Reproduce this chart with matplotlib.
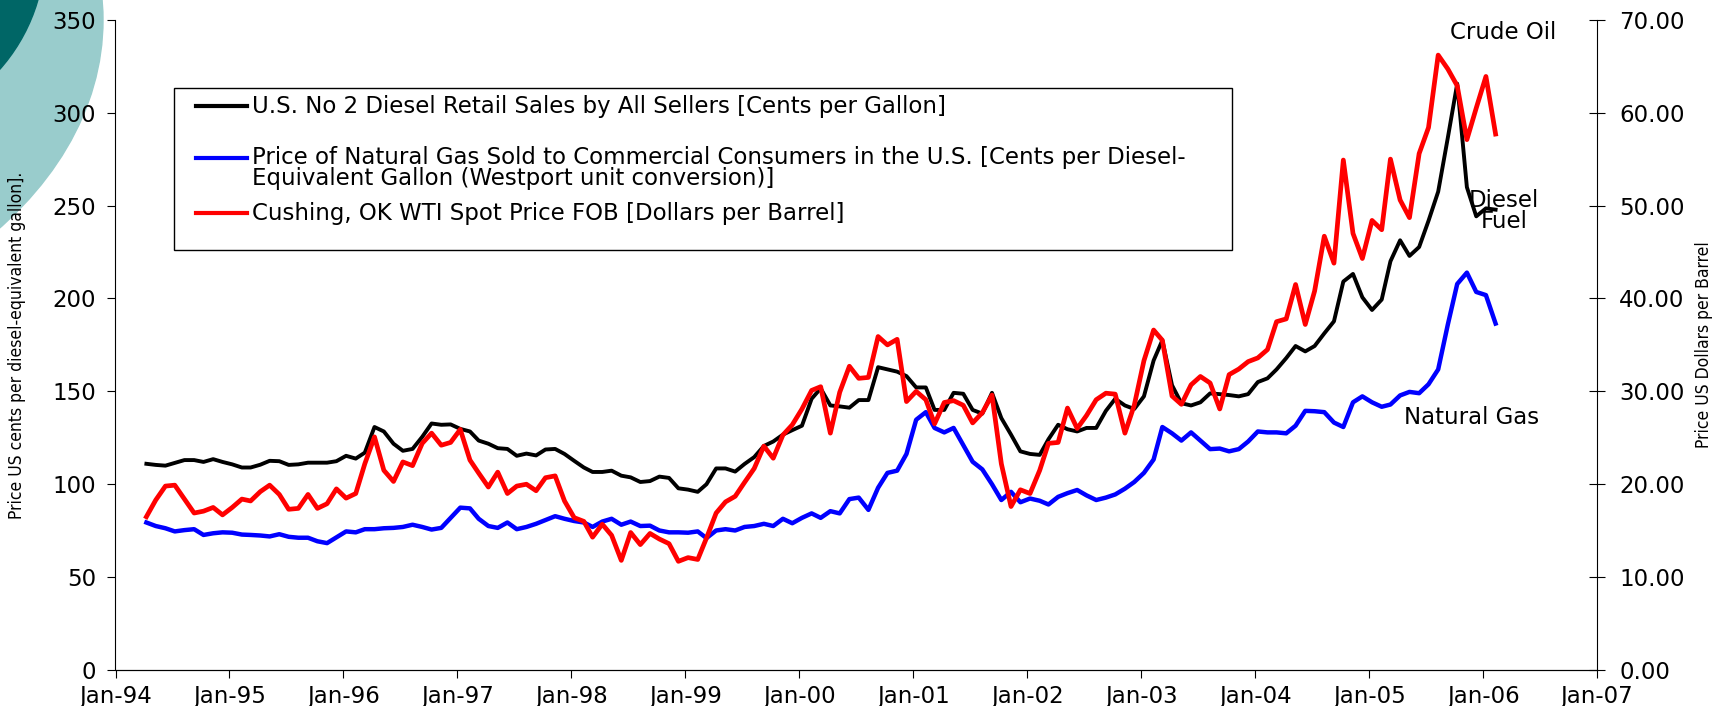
import matplotlib
matplotlib.use("Agg")
import matplotlib.pyplot as plt
import matplotlib.dates as mdates
from matplotlib.patches import Ellipse, Rectangle
from matplotlib.lines import Line2D
from matplotlib.ticker import FormatStrFormatter
import numpy as np
import pandas as pd

# monthly series, Apr-1994 .. Feb-2006
months = pd.date_range("1994-04-01", "2006-02-01", freq="MS") + pd.Timedelta(days=9)

# U.S. No 2 diesel retail, cents per gallon (left axis)
diesel = [
    111, 110.4, 110, 111.5, 113, 113, 112, 113.5, 112,
    110.7, 109, 109, 110.5, 112.6, 112.4, 110.4, 110.7, 111.6, 111.6, 111.6, 112.4,
    115.3, 113.8, 117, 130.8, 128.4, 121.8, 118, 119, 125.5, 132.7, 132, 132.2,
    129.8, 128.4, 123.5, 121.8, 119.4, 119, 115.3, 116.5, 115.5, 118.7, 119, 116.3,
    112.6, 109, 106.6, 106.6, 107.3, 104.6, 103.7, 101.2, 101.7, 104.1, 103.4, 97.8,
    97.1, 95.9, 100, 108.5, 108.5, 106.8, 110.9, 114.6, 120.6, 123, 126.7, 129.1,
    131.5, 146, 151.6, 142.4, 141.9, 141.2, 145.3, 145.3, 163, 161.8, 160.6, 158.2,
    152.1, 152.1, 140, 140, 149.2, 148.7, 140, 138, 149.2, 135.6, 126.7, 117.7,
    116.3, 115.8, 124.2, 132, 129.6, 128.4, 130.3, 130.3, 139.5, 146, 142.4, 140.5,
    147.3, 166.6, 177.5, 153.3, 143.6, 142.4, 144.1, 148.9, 148.5, 148, 147.3, 148.5,
    155, 157, 161.8, 167.9, 174.4, 171.5, 174.4, 181.2, 187.7, 209.1, 213.2, 200.6,
    193.8, 199.4, 220, 231.3, 222.9, 227.7, 241.8, 257.5, 286.6, 315.6, 259.9, 244.2,
    248.5, 247.8,
]

# natural gas, cents per diesel-equivalent gallon (left axis)
natgas = [
    79.4, 77.5, 76.3, 74.6, 75.3, 75.8, 72.7, 73.6, 74.1,
    73.9, 72.9, 72.7, 72.4, 71.9, 73.1, 71.7, 71.2, 71.2, 69.3, 68.3, 71.4,
    74.6, 74.1, 75.8, 75.8, 76.3, 76.5, 77, 78.2, 77, 75.6, 76.5, 81.9,
    87.4, 87, 81.4, 77.5, 76.5, 79.4, 75.8, 77, 78.7, 80.7, 82.8, 81.4,
    80.2, 79.4, 77, 79.9, 81.4, 78.2, 79.9, 77.5, 77.7, 75.1, 74.1, 74.1,
    73.9, 74.6, 71.0, 75.1, 75.8, 75.1, 77, 77.5, 78.7, 77.5, 81.4, 79,
    81.9, 84.3, 81.9, 85.5, 84.3, 92, 92.8, 86.2, 98.1, 106.1, 107.3, 116.3,
    134.7, 138.8, 130.3, 127.9, 130.3, 121.1, 112.1, 108, 100, 91.5, 95.9, 90.3,
    92.3, 91.1, 89.1, 93.2, 95.2, 96.9, 94, 91.5, 92.8, 94.5, 97.6, 101.2,
    106.1, 113.3, 130.8, 127.4, 123.5, 127.9, 123.5, 118.9, 119.2, 117.7, 118.9, 123,
    128.4, 127.9, 127.9, 127.4, 131.5, 139.5, 139.3, 138.8, 133.2, 130.8, 144.1, 147.3,
    144.1, 141.7, 142.9, 147.8, 149.7, 149, 153.8, 161.8, 186, 207.8, 213.9, 203.5,
    201.8, 186.5,
]

# WTI spot, dollars per barrel (right axis)
crude = [
    16.5, 18.3, 19.8, 19.9, 18.4, 16.9, 17.1, 17.5, 16.7,
    17.5, 18.4, 18.2, 19.2, 19.9, 18.9, 17.3, 17.4, 18.9, 17.4, 17.9, 19.5,
    18.5, 19.0, 22.2, 25.1, 21.5, 20.3, 22.4, 22.0, 24.4, 25.5, 24.2, 24.5,
    25.9, 22.6, 21.2, 19.7, 21.3, 19.0, 19.8, 20.0, 19.3, 20.7, 20.9, 18.2,
    16.4, 16.0, 14.3, 15.7, 14.5, 11.8, 14.8, 13.5, 14.7, 14.1, 13.6, 11.7,
    12.1, 11.9, 14.2, 16.9, 18.1, 18.7, 20.2, 21.7, 24.1, 22.8, 25.3, 26.4,
    28.1, 30.1, 30.5, 25.5, 29.9, 32.7, 31.4, 31.5, 35.9, 35.0, 35.6, 28.9,
    30.0, 29.1, 26.5, 28.8, 29.0, 28.5, 26.6, 27.7, 29.6, 22.2, 17.6, 19.4,
    19.0, 21.5, 24.4, 24.5, 28.2, 26.0, 27.4, 29.1, 29.8, 29.7, 25.5, 28.5,
    33.3, 36.6, 35.5, 29.5, 28.6, 30.7, 31.6, 30.9, 28.1, 31.8, 32.4, 33.2,
    33.6, 34.5, 37.5, 37.8, 41.5, 37.2, 40.8, 46.7, 43.8, 54.9, 47.0, 44.3,
    48.4, 47.4, 55.0, 50.6, 48.7, 55.6, 58.4, 66.2, 64.7, 62.9, 57.1, 60.5,
    63.9, 57.7,
]

legend_labels = [
    "U.S. No 2 Diesel Retail Sales by All Sellers [Cents per Gallon]",
    "Price of Natural Gas Sold to Commercial Consumers in the U.S. [Cents per Diesel-\nEquivalent Gallon (Westport unit conversion)]",
    "Cushing, OK WTI Spot Price FOB [Dollars per Barrel]",
]

W, H = 1725, 706
fig = plt.figure(figsize=(W / 100, H / 100), dpi=100)
fs = 16.5
narrow = dict(family="DejaVu Sans", stretch="condensed", fontsize=12.5)

# decorative teal shapes top-left
fig.patches.append(Ellipse((-375 / W, 1 - 20 / H), 2 * 478 / W, 2 * 335 / H,
                           transform=fig.transFigure, color="#99cccc", zorder=-2))
fig.patches.append(Ellipse((-135 / W, 1 + 50 / H), 2 * 180 / W, 2 * 180 / H,
                           transform=fig.transFigure, color="#006666", zorder=-1))

ax = fig.add_axes([115.5 / W, 1 - 670 / H, (1597 - 115.5) / W, (670 - 19.8) / H])
ax.patch.set_alpha(0)
ax2 = ax.twinx()

ax.plot(months, diesel, color="black", lw=2.8)
ax.plot(months, natgas, color="#0000ff", lw=3.2)
ax2.plot(months, crude, color="#ff0000", lw=3.4)

ax.set_ylim(0, 350)
ax2.set_ylim(0, 70)
ax.set_yticks(range(0, 351, 50))
ax2.set_yticks(range(0, 71, 10))
ax2.yaxis.set_major_formatter(FormatStrFormatter("%.2f"))

ax.set_xlim(pd.Timestamp("1994-01-01"), pd.Timestamp("2007-01-01"))
ax.xaxis.set_major_locator(mdates.YearLocator())
ax.xaxis.set_major_formatter(mdates.DateFormatter("%b-%y"))

for a in (ax, ax2):
    a.spines["top"].set_visible(False)
ax.spines["right"].set_visible(False)
ax2.spines["left"].set_visible(False)

ax.tick_params(axis="y", direction="out", length=6, labelsize=fs, pad=8)
ax.tick_params(axis="x", direction="out", length=6, labelsize=fs, pad=5)
ax2.tick_params(axis="y", direction="inout", length=12, labelsize=fs, pad=10)

ax.set_ylabel("Price US cents per diesel-equivalent gallon].", **narrow)
ax.yaxis.set_label_coords(-89 / (1597 - 115.5), 0.5)
ax2.set_ylabel("Price US Dollars per Barrel", **narrow)
ax2.yaxis.set_label_coords(1 + 98 / (1597 - 115.5), 0.5)

# legend box drawn by hand to keep the uneven row spacing
fig.patches.append(Rectangle((174 / W, 1 - 250 / H), (1232 - 174) / W, (250 - 88) / H,
                             transform=fig.transFigure, fill=False, ec="black", lw=1, zorder=5))
rows_y = [106, 158, 213]
colors = ["black", "#0000ff", "#ff0000"]
for yy, c, lab in zip(rows_y, colors, legend_labels):
    fig.lines.append(Line2D([196 / W, 247 / W], [1 - yy / H, 1 - yy / H],
                            transform=fig.transFigure, color=c, lw=3))
    if "\n" in lab:
        fig.text(252 / W, 1 - (yy - 12) / H, lab, fontsize=fs, va="top", ha="left",
                 linespacing=0.9)
    else:
        fig.text(252 / W, 1 - yy / H, lab, fontsize=fs, va="center", ha="left")

ax.text(pd.Timestamp("2006-03-05"), 343, "Crude Oil", fontsize=fs, ha="center", va="center")
ax.text(pd.Timestamp("2006-03-10"), 247, "Diesel\nFuel", fontsize=fs, ha="center",
        va="center", linespacing=0.9)
ax.text(pd.Timestamp("2005-11-25"), 136, "Natural Gas", fontsize=fs, ha="center", va="center")

fig.savefig("out.png", dpi=100)
